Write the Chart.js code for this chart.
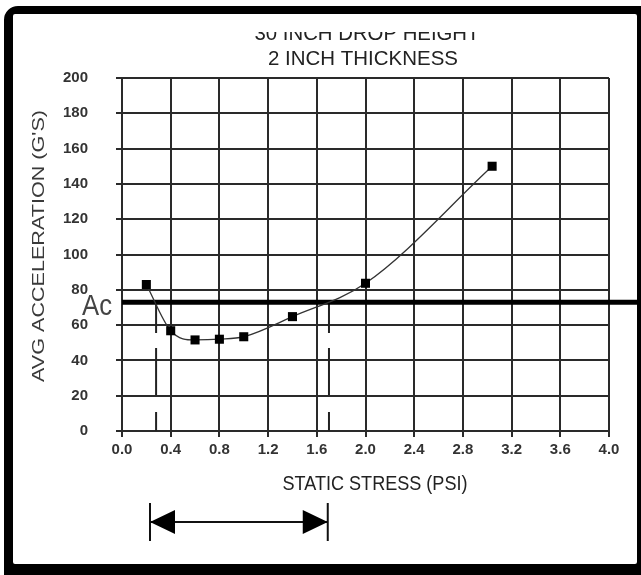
<!DOCTYPE html>
<html>
<head>
<meta charset="utf-8">
<script src="https://cdn.jsdelivr.net/npm/chart.js@4.4.1/dist/chart.umd.min.js"></script>
<style>
  html, body { margin: 0; padding: 0; background: #fff; }
  #wrap { width: 641px; height: 575px; }
</style>
</head>
<body>
<div id="wrap"><canvas id="c" width="641" height="575"></canvas></div>
<script>
// ---- data ----
const staticStress = [0.2, 0.4, 0.6, 0.8, 1.0, 1.4, 2.0, 3.04];
const avgAccel     = [83, 56.8, 51.6, 52, 53.4, 64.8, 83.7, 150];
const acLevel      = 73;              // critical acceleration line "Ac"
const acLineX      = [0, 4.3];        // extends past the plot to the frame
const guideX       = [0.28, 1.70];    // where the curve crosses Ac
const guideSegs    = [[73, 55.5], [47, 20.4], [10.8, 0]];
const arrowRange   = [0.23, 1.69];    // recommended stress range arrow
const xTickVals    = [0, 0.4, 0.8, 1.2, 1.6, 2.0, 2.4, 2.8, 3.2, 3.6, 4.0];
const yTickVals    = [0, 20, 40, 60, 80, 100, 120, 140, 160, 180, 200];
const titleLines   = ["30 INCH DROP HEIGHT", "2 INCH THICKNESS"];
const xTitle       = "STATIC STRESS (PSI)";
const yTitle       = "AVG ACCELERATION (G'S)";
const acLabel      = "Ac";

const INK = '#222';
const FONT = '"Liberation Sans", Arial, sans-serif';

function guideData(x) {
  const out = [];
  guideSegs.forEach((s, i) => {
    if (i > 0) out.push({x: x, y: null});
    out.push({x: x, y: s[0]});
    out.push({x: x, y: s[1]});
  });
  return out;
}

function fitText(ctx, text, cx, cy, width, px, rot, weight) {
  ctx.save();
  ctx.font = (weight || 'normal') + ' ' + px + 'px ' + FONT;
  const w = ctx.measureText(text).width;
  ctx.translate(cx, cy);
  if (rot) ctx.rotate(rot);
  ctx.scale(width / w, 1);
  ctx.textAlign = 'center';
  ctx.textBaseline = 'alphabetic';
  ctx.fillText(text, 0, 0);
  ctx.restore();
}

const framePlugin = {
  id: 'frame',
  beforeDraw(chart) {
    const ctx = chart.ctx;
    ctx.save();
    ctx.fillStyle = '#fff';
    ctx.fillRect(0, 0, chart.width, chart.height);
    ctx.beginPath();
    ctx.roundRect(4, 6, 680, 620, 14);
    ctx.roundRect(13, 14, 624, 550, 2);
    ctx.fillStyle = '#000';
    ctx.fill('evenodd');
    ctx.restore();
  },
  afterDraw(chart) {
    const ctx = chart.ctx;
    const xs = chart.scales.x;
    ctx.save();
    ctx.fillStyle = INK;
    // title line 1 (top half hidden as in the reference)
    ctx.save();
    ctx.beginPath();
    ctx.rect(0, 32, chart.width, 40);
    ctx.clip();
    fitText(ctx, titleLines[0], 367, 40, 225, 21);
    ctx.restore();
    fitText(ctx, titleLines[1], 363, 65, 190, 21);
    // axis titles
    fitText(ctx, xTitle, 375, 490, 185, 21);
    ctx.fillStyle = '#3a3a3a';
    fitText(ctx, yTitle, 44, 246, 272, 17, -Math.PI / 2);
    // Ac label
    ctx.fillStyle = '#444';
    fitText(ctx, acLabel, 97, 315, 30, 29);
    // range arrow
    const x1 = xs.getPixelForValue(arrowRange[0]);
    const x2 = xs.getPixelForValue(arrowRange[1]);
    const ay = 522;
    ctx.strokeStyle = '#111';
    ctx.fillStyle = '#000';
    ctx.lineWidth = 2;
    ctx.beginPath();
    ctx.moveTo(x1, ay); ctx.lineTo(x2, ay);
    ctx.moveTo(x1, ay - 19); ctx.lineTo(x1, ay + 19);
    ctx.moveTo(x2, ay - 19); ctx.lineTo(x2, ay + 19);
    ctx.stroke();
    ctx.beginPath();
    ctx.moveTo(x1, ay); ctx.lineTo(x1 + 25, ay - 12); ctx.lineTo(x1 + 25, ay + 12); ctx.closePath();
    ctx.moveTo(x2, ay); ctx.lineTo(x2 - 25, ay - 12); ctx.lineTo(x2 - 25, ay + 12); ctx.closePath();
    ctx.fill();
    ctx.restore();
  }
};

new Chart(document.getElementById('c'), {
  type: 'line',
  data: {
    datasets: [
      {
        data: staticStress.map((x, i) => ({x: x, y: avgAccel[i]})),
        borderColor: '#333',
        borderWidth: 1.3,
        cubicInterpolationMode: 'monotone',
        pointStyle: 'rect',
        pointRadius: 6.4,
        pointBackgroundColor: '#000',
        pointBorderWidth: 0,
        order: 0
      },
      {
        data: acLineX.map(x => ({x: x, y: acLevel})),
        borderColor: '#000',
        borderWidth: 5,
        pointRadius: 0,
        clip: false,
        order: 1
      },
      {
        data: guideData(guideX[0]),
        borderColor: '#222',
        borderWidth: 2,
        pointRadius: 0,
        spanGaps: false,
        order: 2
      },
      {
        data: guideData(guideX[1]),
        borderColor: '#222',
        borderWidth: 2,
        pointRadius: 0,
        spanGaps: false,
        order: 2
      }
    ]
  },
  options: {
    responsive: false,
    animation: false,
    devicePixelRatio: 1,
    layout: { padding: { left: 0, right: 32, top: 78, bottom: 0 } },
    plugins: { legend: { display: false }, tooltip: { enabled: false }, title: { display: false } },
    scales: {
      x: {
        type: 'linear',
        min: 0, max: 4,
        afterBuildTicks: s => { s.ticks = xTickVals.map(v => ({value: v})); },
        afterFit: s => { s.height = 144; },
        grid: { color: '#2a2a2a', lineWidth: 2, tickLength: 6, drawTicks: true },
        border: { color: '#2a2a2a', width: 2 },
        ticks: {
          autoSkip: false, maxRotation: 0, padding: 4, color: '#333',
          font: { family: FONT, size: 15, weight: 'bold' },
          callback: v => Number(v).toFixed(1)
        }
      },
      y: {
        type: 'linear',
        min: 0, max: 200,
        afterBuildTicks: s => { s.ticks = yTickVals.map(v => ({value: v})); },
        afterFit: s => { s.width = 122; },
        grid: { color: '#2a2a2a', lineWidth: 2, tickLength: 6, drawTicks: true },
        border: { color: '#2a2a2a', width: 2 },
        ticks: {
          autoSkip: false, padding: 28, color: '#333',
          font: { family: FONT, size: 15, weight: 'bold' },
          callback: v => String(v)
        }
      }
    }
  },
  plugins: [framePlugin]
});
</script>
</body>
</html>
